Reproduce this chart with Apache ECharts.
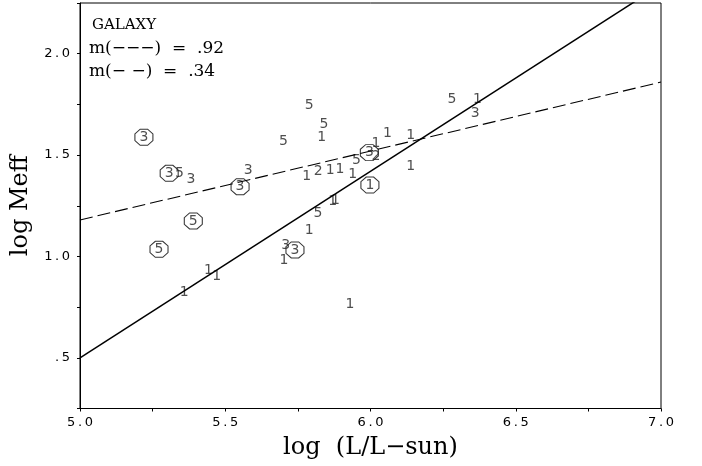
<!DOCTYPE html>
<html><head><meta charset="utf-8">
<script src="https://cdn.jsdelivr.net/npm/echarts@6/dist/echarts.min.js"></script>
<style>html,body{margin:0;padding:0;background:#fff}#c{width:702px;height:466px}</style>
</head><body><div id="c"></div>
<script>
// plain digit markers
const plainX = [5.342,5.382,5.579,5.442,5.471,5.359,5.708,5.702,5.700,5.789,5.840,5.832,5.780,5.820,5.861,5.895,5.939,5.952,6.019,6.019,6.058,6.138,6.138,6.280,6.368,6.360,5.870,5.879,5.819,5.789,5.929];
const plainY = [1.410,1.382,1.426,0.930,0.904,0.821,1.056,0.979,1.566,1.743,1.653,1.588,1.397,1.421,1.426,1.430,1.407,1.476,1.495,1.558,1.607,1.599,1.443,1.775,1.775,1.706,1.270,1.275,1.213,1.130,0.765];
const plainLabel = ['5','3','3','1','1','1','3','1','5','5','5','1','1','2','1','1','1','5','2','1','1','1','1','5','1','3','1','1','5','1','1'];
// circled digit markers
const circX = [5.220,5.307,5.390,5.272,5.551,5.740,5.996,5.998];
const circY = [1.588,1.410,1.175,1.035,1.344,1.032,1.512,1.352];
const circLabel = ['3','3','5','5','3','3','3','1'];
// fitted lines: y = intercept + slope*(x-5)
const fitSlope = [0.92, 0.34];
const fitIntercept = [0.50, 1.18];
const fitRange = [5.0, 7.0];
const xTicks = ['5.0','5.5','6.0','6.5','7.0'];
const yTicks = ['.5','1.0','1.5','2.0'];

const chart = echarts.init(document.getElementById('c'), null, {renderer:'canvas'});
const fitLine = i => fitRange.map(x => [x, fitIntercept[i] + fitSlope[i]*(x - fitRange[0])]);
const digitFont = {fontFamily:'DejaVu Sans', fontSize:14, color:'#222'};
const octagon = 'path://M29.3,0 L70.7,0 L100,29.3 L100,70.7 L70.7,100 L29.3,100 L0,70.7 L0,29.3 Z';
const near = (v, arr) => { for (const t of arr) { if (Math.abs(parseFloat(t) - v) < 1e-6) return t.split('').join('\u2009'); } return ''; };
const serif = 'DejaVu Serif';

chart.setOption({
  animation:false,
  grid:{left:80, top:3, right:41, bottom:57.5, show:true, borderColor:'#000', borderWidth:1, containLabel:false},
  xAxis:{type:'value', min:5.0, max:7.0, interval:0.25,
    name:'log  (L/L\u2212sun)', nameLocation:'middle', nameGap:27,
    nameTextStyle:{fontFamily:serif, fontSize:24, color:'#000'},
    axisLine:{lineStyle:{color:'#000', width:1}},
    axisTick:{show:true, length:3, lineStyle:{color:'#000'}},
    axisLabel:{margin:8, fontFamily:'DejaVu Sans', fontSize:13, color:'#000',
      formatter:v => near(v, xTicks)},
    splitLine:{show:false}},
  yAxis:{type:'value', min:0.25, max:2.25, interval:0.25,
    name:'log Meff', nameLocation:'middle', nameGap:42,
    nameTextStyle:{fontFamily:serif, fontSize:24, color:'#000'},
    axisLine:{show:true, lineStyle:{color:'#000', width:1}},
    axisTick:{show:true, length:3, lineStyle:{color:'#000'}},
    axisLabel:{margin:10, fontFamily:'DejaVu Sans', fontSize:13, color:'#000',
      formatter:v => near(v, yTicks)},
    splitLine:{show:false}},
  series:[
    {type:'line', data:fitLine(0), showSymbol:false, symbol:'none', clip:true,
      lineStyle:{color:'#000', width:1.5, type:'solid'}},
    {type:'line', data:fitLine(1), showSymbol:false, symbol:'none', clip:true,
      lineStyle:{color:'#000', width:1.1, type:[13,5]}},
    {type:'scatter', data:plainX.map((x,i)=>[x, plainY[i], plainLabel[i]]),
      symbolSize:1, itemStyle:{color:'rgba(0,0,0,0)'},
      label:Object.assign({show:true, position:'inside', formatter:p=>p.value[2]}, digitFont)},
    {type:'scatter', data:circX.map((x,i)=>[x, circY[i], circLabel[i]]),
      symbol:octagon, symbolSize:[18,16], itemStyle:{color:'rgba(0,0,0,0)', borderColor:'#000', borderWidth:1},
      label:Object.assign({show:true, position:'inside', formatter:p=>p.value[2]}, digitFont)}
  ],
  graphic:[
    {type:'text', left:92, top:18, style:{text:'GALAXY', font:'15px "DejaVu Serif"', fill:'#000'}},
    {type:'text', left:89, top:40, style:{text:'m(\u2212\u2212\u2212)  =  .92', font:'17px "DejaVu Serif"', fill:'#000'}},
    {type:'text', left:89, top:63, style:{text:'m(\u2212 \u2212)  =  .34', font:'17px "DejaVu Serif"', fill:'#000'}}
  ]
});
</script></body></html>
